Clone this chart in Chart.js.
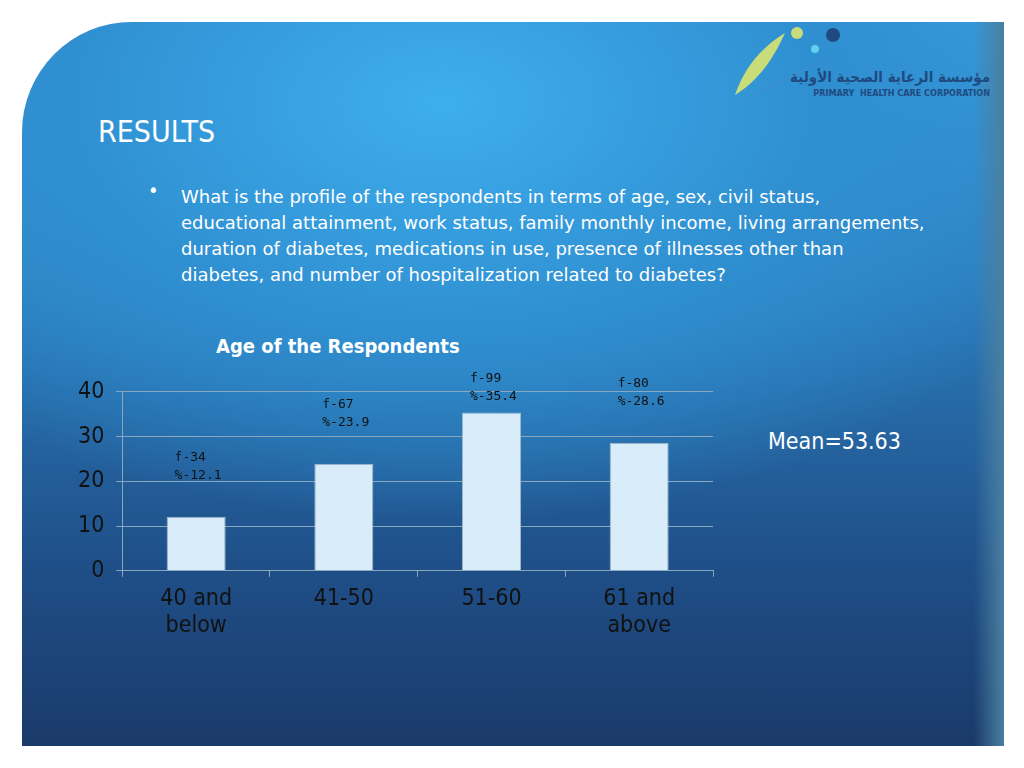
<!DOCTYPE html>
<html><head><meta charset="utf-8">
<script src="https://cdn.jsdelivr.net/npm/chart.js@4"></script>
<style>
body{margin:0;width:1024px;height:768px;background:#fff;position:relative;overflow:hidden;font-family:"DejaVu Sans Condensed","DejaVu Sans",sans-serif}
#slide{position:absolute;left:22px;top:22px;width:982px;height:724px;border-radius:110px 0 0 0;
background:radial-gradient(ellipse 700px 420px at 420px 80px,#3eaeee 0%,#2f8fd0 55%,rgba(40,110,170,0) 100%),
linear-gradient(180deg,#3a9fe0 0%,#2a78b8 40%,#1f4f88 75%,#1a3a6a 100%);overflow:hidden}
#slide:after{content:"";position:absolute;right:0;top:0;width:30px;height:724px;background:linear-gradient(90deg,rgba(80,140,180,0),#4a7fa0)}
.t{position:absolute;color:#fff}
#wrap{position:absolute;left:66px;top:366px;width:674px;height:282px}
</style></head><body>
<div id="slide"></div>
<div class="t" style="left:98px;top:114px;font-size:30px;">RESULTS</div>
<div class="t" style="left:148px;top:178px;font-size:20px">•</div>
<div class="t" style="left:181px;top:184px;width:820px;font-family:'DejaVu Sans';font-size:18px;line-height:26px;white-space:nowrap">What is the profile of the respondents in terms of age, sex, civil status,<br>educational attainment, work status, family monthly income, living arrangements,<br>duration of diabetes, medications in use, presence of illnesses other than<br>diabetes, and number of hospitalization related to diabetes?</div>
<div class="t" style="left:216px;top:334px;font-size:20px;font-weight:bold">Age of the Respondents</div>
<div class="t" style="left:768px;top:428px;font-size:23px">Mean=53.63</div>
<svg style="position:absolute;left:725px;top:25px" width="120" height="80">
<path d="M10 70 C 20 40, 40 20, 60 8 C 50 30, 35 55, 10 70 Z" fill="#c8dc7a"/>
<circle cx="72" cy="8" r="6" fill="#c8dc7a"/>
<circle cx="90" cy="24" r="4" fill="#5fd0f0"/>
<circle cx="108" cy="10" r="7" fill="#1f4a80"/>
<path d="M20 75 C 50 60, 80 45, 100 30" stroke="#3a8fd0" stroke-width="2" fill="none"/>
</svg>
<div class="t" style="left:740px;top:68px;width:250px;text-align:right;font-size:15px;font-weight:bold;color:#1f4a80">مؤسسة الرعاية الصحية الأولية</div>
<div class="t" style="left:740px;top:88px;width:250px;text-align:right;font-size:9px;font-weight:bold;color:#1f4a80">PRIMARY&nbsp; HEALTH CARE CORPORATION</div>
<div id="wrap"><canvas id="c"></canvas></div>
<script>
const categories = [['40 and','below'], '41-50', '51-60', ['61 and','above']];
const percents = [12.1, 23.9, 35.4, 28.6];
const freqs = [34, 67, 99, 80];
const yTicks = [0, 10, 20, 30, 40];

const notes = {
  id: 'notes',
  afterDatasetsDraw(chart) {
    const ctx = chart.ctx;
    const meta = chart.getDatasetMeta(0);
    ctx.save();
    ctx.fillStyle = '#111';
    ctx.font = '13px "DejaVu Sans Mono", monospace';
    ctx.textBaseline = 'top';
    meta.data.forEach((bar, i) => {
      const x = bar.x - bar.width / 2 + 8;
      const y = Math.max(chart.chartArea.top - 20, bar.y - 66);
      ctx.fillText('f-' + freqs[i], x, y);
      ctx.fillText('%-' + percents[i], x, y + 18);
    });
    ctx.restore();
  }
};

new Chart(document.getElementById('c'), {
  type: 'bar',
  data: {
    labels: categories,
    datasets: [{
      data: percents,
      backgroundColor: '#d8ecf9',
      borderColor: '#9fb4c4',
      borderWidth: 1,
      barPercentage: 0.4,
      categoryPercentage: 1
    }]
  },
  options: {
    responsive: true,
    maintainAspectRatio: false,
    animation: false,
    layout: {padding: {top: 22, right: 27}},
    plugins: {legend: {display: false}, tooltip: {enabled: false}},
    scales: {
      y: {
        min: 0, max: 40,
        afterBuildTicks: ax => { ax.ticks = yTicks.map(v => ({value: v})); },
        ticks: {color: '#111', font: {size: 23, family: '"DejaVu Sans Condensed"'}, padding: 12},
        grid: {color: '#8aa7c0', tickLength: 6},
        border: {color: '#8aa7c0'}
      },
      x: {
        ticks: {color: '#111', font: {size: 23, family: '"DejaVu Sans Condensed"'}, padding: 8},
        grid: {color: '#8aa7c0', drawOnChartArea: false, offset: true, tickLength: 6},
        border: {color: '#8aa7c0'}
      }
    }
  },
  plugins: [notes]
});
</script>
</body></html>
